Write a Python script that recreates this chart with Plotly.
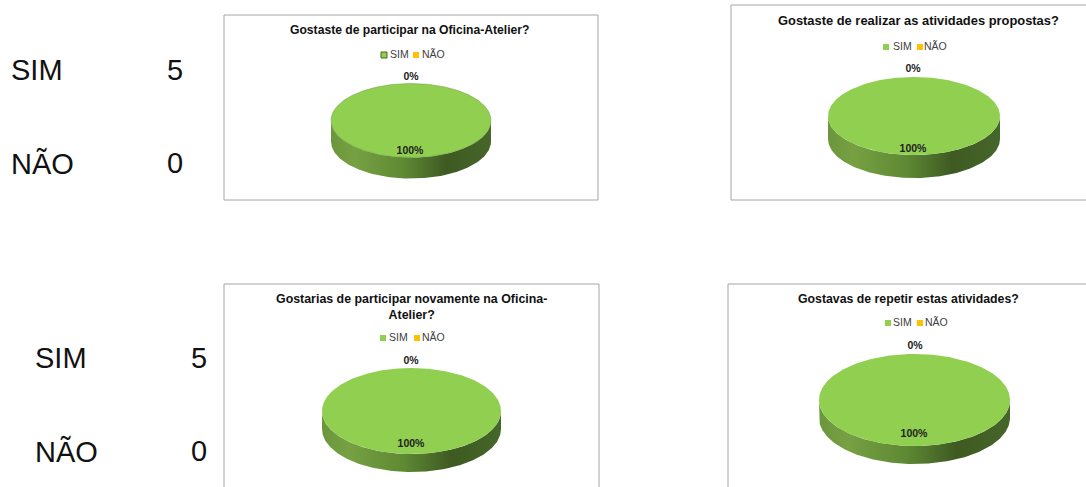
import numpy as np
import plotly.graph_objects as go

CATEGORIES = ["SIM", "NÃO"]
TITLES = [
    "Gostaste de participar na Oficina-Atelier?",
    "Gostaste de realizar as atividades propostas?",
    "Gostarias de participar novamente na Oficina-<br>Atelier?",
    "Gostavas de repetir estas atividades?",
]
SIM_VALUES = [5, 5, 5, 5]
NAO_VALUES = [0, 0, 0, 0]
TABLE_LABELS = ["SIM", "NÃO"]
TABLE_VALUES = [5, 0]

W, H = 1086, 487
TOP_COLOR = "#90CF50"
NAO_COLOR = "#FFC000"
FONT = "Liberation Sans"
SIDE_SCALE = [[0, "#6c963c"], [0.15, "#76a042"], [0.45, "#5f8a34"], [0.72, "#3e5a22"], [1, "#46662a"]]

# page-pixel layout of each chart frame and its parts
LAYOUT = [
    dict(box=(224, 15, 598, 200), c=(411, 120.5), r=(80, 37), d=21, title=(410, 30.5), tsize=12.15,
         leg=(384, 390, 416, 422, 55), lab0=(411, 77.5), lab1=(410, 151.5), outline=True),
    dict(box=(731, 5, 1086, 200), c=(914, 116), r=(86, 39), d=23, title=(918.5, 20.5), tsize=12.9,
         leg=(886, 893, 920, 924, 47), lab0=(913, 69.5), lab1=(913, 149.5), outline=False),
    dict(box=(224, 284, 599, 487), c=(411.5, 411), r=(89.5, 43), d=18, title=(411, 306.5), tsize=12.4,
         leg=(383, 389, 417, 422, 338), lab0=(411, 361), lab1=(411, 444.5), outline=False),
    dict(box=(728, 284, 1086, 487), c=(914.5, 400), r=(95.5, 46), d=18, title=(908, 298.5), tsize=12.3,
         leg=(888, 893, 920, 925, 323), lab0=(915, 346.5), lab1=(914, 434.5), outline=False),
]

fig = go.Figure()
shapes, annotations = [], []


def arc(cx, cy, rx, ry, a0, a1, n=180):
    t = np.radians(np.linspace(a0, a1, n))
    return cx + rx * np.sin(t), cy - ry * np.cos(t)


for i, g in enumerate(LAYOUT):
    sfx = "" if i == 0 else str(i + 1)
    xa, ya = "x" + sfx, "y" + sfx
    x0, y0, x1, y1 = g["box"]
    fig.update_layout({
        "xaxis" + sfx: dict(domain=[x0 / W, x1 / W], range=[x0, x1], visible=False, fixedrange=True),
        "yaxis" + sfx: dict(domain=[1 - y1 / H, 1 - y0 / H], range=[y1, y0], visible=False,
                            fixedrange=True, anchor=xa),
    })
    fig.layout["xaxis" + sfx].anchor = ya
    shapes.append(dict(type="rect", xref="paper", yref="paper", x0=x0 / W, x1=(x1 + 5) / W if x1 >= W else x1 / W,
                       y0=1 - (y1 + 5) / H if y1 >= H else 1 - y1 / H, y1=1 - y0 / H,
                       line=dict(color="#a6a6a6", width=1), fillcolor="white", layer="below"))

    sim, nao = SIM_VALUES[i], NAO_VALUES[i]
    total = sim + nao
    cx, cy = g["c"]
    rx, ry = g["r"]
    depth = g["d"]
    edge = dict(width=0.5, color="#6f9a3e") if g["outline"] else dict(width=0)

    a = 0.0
    for value, colour in zip((sim, nao), (TOP_COLOR, NAO_COLOR)):
        span = 360.0 * value / total
        lo, hi = max(a, 90), min(a + span, 270)
        if hi > lo:
            xf, yf = arc(cx, cy, rx, ry, lo, hi)
            xs = np.concatenate([xf, xf[::-1]])
            ys = np.concatenate([yf, yf[::-1] + depth])
            fig.add_trace(go.Scatter(x=xs, y=ys, xaxis=xa, yaxis=ya, mode="lines", fill="toself",
                                     line=dict(width=0), hoverinfo="skip", showlegend=False,
                                     fillgradient=dict(type="horizontal", colorscale=SIDE_SCALE)))
        a += span
    a = 0.0
    for value, colour in zip((sim, nao), (TOP_COLOR, NAO_COLOR)):
        span = 360.0 * value / total
        if span > 0:
            xt, yt = arc(cx, cy, rx, ry, a, a + span, 361)
            fig.add_trace(go.Scatter(x=xt, y=yt, xaxis=xa, yaxis=ya, mode="lines", fill="toself",
                                     fillcolor=colour, line=edge, hoverinfo="skip", showlegend=False))
        a += span

    # legend entries
    mx1, tx1, mx2, tx2, ly = g["leg"]
    fig.add_trace(go.Scatter(x=[mx1, mx2], y=[ly, ly], xaxis=xa, yaxis=ya, mode="markers",
                             marker=dict(symbol="square", size=6, color=[TOP_COLOR, NAO_COLOR],
                                         line=dict(width=[1 if g["outline"] else 0, 0], color="#4f6228")),
                             hoverinfo="skip", showlegend=False, cliponaxis=False))
    fig.add_trace(go.Scatter(x=[tx1, tx2], y=[ly, ly], xaxis=xa, yaxis=ya, mode="text",
                             text=CATEGORIES, textposition="middle right",
                             textfont=dict(family=FONT, size=10.5, color="#404040"),
                             hoverinfo="skip", showlegend=False, cliponaxis=False))

    # value labels
    fig.add_trace(go.Scatter(x=[g["lab0"][0], g["lab1"][0]], y=[g["lab0"][1], g["lab1"][1]],
                             xaxis=xa, yaxis=ya, mode="text",
                             text=[f"{round(100 * nao / total)}%", f"{round(100 * sim / total)}%"],
                             textposition="middle center",
                             textfont=dict(family=FONT, size=10.5, color="#222222", weight="bold"),
                             hoverinfo="skip", showlegend=False, cliponaxis=False))

    annotations.append(dict(text="<b>" + TITLES[i] + "</b>", xref=xa, yref=ya,
                            x=g["title"][0], y=g["title"][1], showarrow=False,
                            font=dict(family=FONT, size=g["tsize"], color="#111111"), align="center"))

# the two small tables at the left
for ox, ys in ((8.5, (70, 163)), (32.5, (358, 451))):
    for label, value, yp in zip(TABLE_LABELS, TABLE_VALUES, ys):
        annotations.append(dict(text=label, xref="paper", yref="paper", x=ox / W, y=1 - yp / H,
                                xanchor="left", yanchor="middle", showarrow=False,
                                font=dict(family=FONT, size=29, color="#111111")))
        annotations.append(dict(text=str(value), xref="paper", yref="paper", x=(ox + 156) / W, y=1 - yp / H,
                                xanchor="left", yanchor="middle", showarrow=False,
                                font=dict(family=FONT, size=29, color="#111111")))

fig.update_layout(width=W, height=H, margin=dict(l=0, r=0, t=0, b=0), paper_bgcolor="white",
                  plot_bgcolor="rgba(0,0,0,0)", shapes=shapes, annotations=annotations, showlegend=False)

fig.write_html("out.html", config={"displayModeBar": False},
               post_script="document.body.style.margin='0';document.body.style.overflow='hidden';")
